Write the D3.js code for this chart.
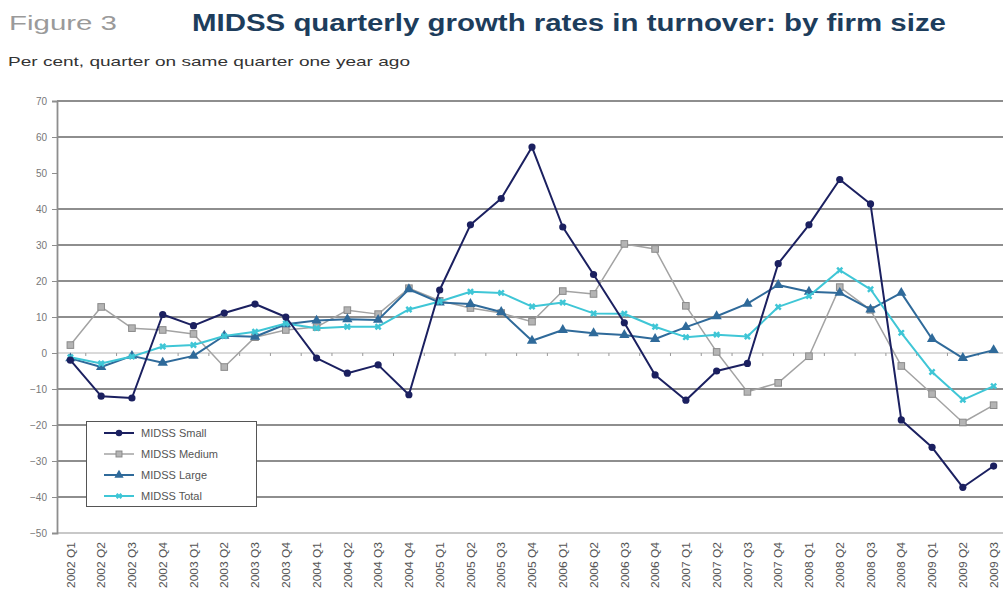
<!DOCTYPE html>
<html><head><meta charset="utf-8">
<script src="https://cdn.jsdelivr.net/npm/d3@7"></script>
<style>body{margin:0;background:#fff}svg{display:block;font-family:"Liberation Sans",Arial,sans-serif}</style>
</head><body>
<svg id="c" width="1003" height="589"></svg>
<script>
const categories = ["2002 Q1","2002 Q2","2002 Q3","2002 Q4","2003 Q1","2003 Q2","2003 Q3","2003 Q4","2004 Q1","2004 Q2","2004 Q3","2004 Q4","2005 Q1","2005 Q2","2005 Q3","2005 Q4","2006 Q1","2006 Q2","2006 Q3","2006 Q4","2007 Q1","2007 Q2","2007 Q3","2007 Q4","2008 Q1","2008 Q2","2008 Q3","2008 Q4","2009 Q1","2009 Q2","2009 Q3"];
const small  = [-2,-12,-12.5,10.7,7.6,11.1,13.6,10,-1.4,-5.6,-3.3,-11.6,17.5,35.6,42.9,57.2,35,21.8,8.4,-6.1,-13.1,-5,-2.9,24.8,35.6,48.2,41.4,-18.6,-26.2,-37.3,-31.4];
const medium = [2.2,12.8,6.9,6.4,5.3,-3.9,4.4,6.4,7.2,11.9,10.8,18,14.5,12.5,11.1,8.7,17.2,16.4,30.3,28.9,13.1,0.3,-10.8,-8.3,-0.9,18.3,12,-3.6,-11.4,-19.3,-14.5];
const large  = [-1.5,-3.9,-0.8,-2.7,-0.8,4.8,4.5,8,9,9.4,9.2,17.7,14,13.6,11.4,3.4,6.4,5.5,5,3.9,7.2,10.2,13.7,18.9,17,16.7,12.1,16.7,3.9,-1.4,0.8];
const total  = [-1.2,-2.9,-1,1.8,2.2,4.7,5.9,8.2,6.9,7.3,7.3,12.1,14.3,17,16.7,12.9,14,11,10.9,7.3,4.4,5.1,4.6,12.8,15.8,23,17.7,5.6,-5.3,-13,-9.2];
const yTicks = [70,60,50,40,30,20,10,0,-10,-20,-30,-40,-50];
const gridValues = [70,60,40,30,20,10,-10,-20,-30,-40];
const seriesNames = ["MIDSS Small","MIDSS Medium","MIDSS Large","MIDSS Total"];

const svg = d3.select("#c");
const x = d3.scalePoint().domain(categories).range([55,1009]).padding(0.5);
const y = d3.scaleLinear().domain([-50,70]).range([533,101]);
const step = x.step();

// titles
svg.append("text").attr("x",9).attr("y",30).attr("font-size",21).attr("fill","#9a9a9a")
  .attr("textLength",108).attr("lengthAdjust","spacingAndGlyphs").text("Figure 3");
svg.append("text").attr("x",192).attr("y",31).attr("font-size",23).attr("font-weight","bold").attr("fill","#1d3d5c")
  .attr("textLength",754).attr("lengthAdjust","spacingAndGlyphs").text("MIDSS quarterly growth rates in turnover: by firm size");
svg.append("text").attr("x",8).attr("y",66).attr("font-size",13).attr("fill","#333")
  .attr("textLength",402).attr("lengthAdjust","spacingAndGlyphs").text("Per cent, quarter on same quarter one year ago");

// gridlines
svg.append("g").selectAll("line").data(gridValues).join("line")
  .attr("x1",57).attr("x2",1003).attr("y1",d=>y(d)).attr("y2",d=>y(d))
  .attr("stroke","#8e8e8e").attr("stroke-width",1.8);
// bottom line
svg.append("line").attr("x1",57).attr("x2",1003).attr("y1",y(-50)).attr("y2",y(-50)).attr("stroke","#c8c8c8").attr("stroke-width",2);
// zero line with category ticks
svg.append("line").attr("x1",57).attr("x2",1003).attr("y1",y(0)).attr("y2",y(0)).attr("stroke","#b4b4b4").attr("stroke-width",1);
svg.append("g").selectAll("line").data(categories.slice(1)).join("line")
  .attr("x1",d=>x(d)-step/2).attr("x2",d=>x(d)-step/2).attr("y1",y(0)).attr("y2",y(0)+3)
  .attr("stroke","#999").attr("stroke-width",1);

// y axis
const yAxis = d3.axisLeft(y).tickValues(yTicks).tickSize(5).tickFormat(d3.format("d"));
const ga = svg.append("g").attr("transform","translate(57,0)").call(yAxis);
ga.select(".domain").attr("stroke","#8e8e8e").attr("stroke-width",1.8);
ga.selectAll(".tick line").attr("stroke","#8e8e8e");
ga.selectAll(".tick text").attr("font-size",10).attr("fill","#777").attr("x",-10).attr("font-family","Liberation Sans, Arial, sans-serif");

// x labels
const xAxis = d3.axisBottom(x).tickSize(0);
const gx = svg.append("g").attr("transform","translate(0,533)").call(xAxis);
gx.select(".domain").remove();
gx.selectAll(".tick text").attr("font-size",10.5).attr("fill","#555").attr("font-family","Liberation Sans, Arial, sans-serif")
  .attr("transform","rotate(-90)").attr("text-anchor","end").attr("x",-9).attr("y",0).attr("dy","0.35em")
  .attr("textLength",46).attr("lengthAdjust","spacingAndGlyphs");

// series
const styles = {
  "MIDSS Small":  {data:small,  color:"#1b2060", width:2,   marker:"circle"},
  "MIDSS Medium": {data:medium, color:"#a3a3a3", width:1.5, marker:"square"},
  "MIDSS Large":  {data:large,  color:"#2f6a9a", width:2,   marker:"triangle"},
  "MIDSS Total":  {data:total,  color:"#3fc6d6", width:2,   marker:"star"}
};
const line = d3.line().x((d,i)=>x(categories[i])).y(d=>y(d));
function marker(g, type, color, cx, cy, s) {
  if (type==="circle") g.append("circle").attr("cx",cx).attr("cy",cy).attr("r",3.6*s).attr("fill",color);
  else if (type==="square") g.append("rect").attr("x",cx-3.3*s).attr("y",cy-3.3*s).attr("width",6.6*s).attr("height",6.6*s).attr("fill","#b4b4b4").attr("stroke","#8a8a8a").attr("stroke-width",1);
  else if (type==="triangle") g.append("path").attr("d",d3.symbol(d3.symbolTriangle,46*s*s)()).attr("transform",`translate(${cx},${cy})`).attr("fill",color);
  else g.append("path").attr("d",d3.symbol(d3.symbolCross,30*s*s)()).attr("transform",`translate(${cx},${cy}) rotate(45)`).attr("fill",color);
}
const order = ["MIDSS Medium","MIDSS Large","MIDSS Total","MIDSS Small"];
order.forEach(name=>{
  const st = styles[name];
  const g = svg.append("g");
  g.append("path").datum(st.data).attr("d",line).attr("fill","none").attr("stroke",st.color).attr("stroke-width",st.width).attr("stroke-linejoin","round");
  st.data.forEach((v,i)=>marker(g, st.marker, st.color, x(categories[i]), y(v), 1));
});

// legend
const lg = svg.append("g");
lg.append("rect").attr("x",86.5).attr("y",421.5).attr("width",170).attr("height",85).attr("fill","#fff").attr("stroke","#555").attr("stroke-width",1);
seriesNames.forEach((name,i)=>{
  const st = styles[name];
  const ry = 433 + i*21;
  lg.append("line").attr("x1",104).attr("x2",134).attr("y1",ry).attr("y2",ry).attr("stroke",st.color).attr("stroke-width",st.width);
  marker(lg, st.marker, st.color, 119, ry, 0.9);
  lg.append("text").attr("x",141).attr("y",ry).attr("dy","0.35em").attr("font-size",11).attr("fill","#555")
    .text(name);
});
</script>
</body></html>
